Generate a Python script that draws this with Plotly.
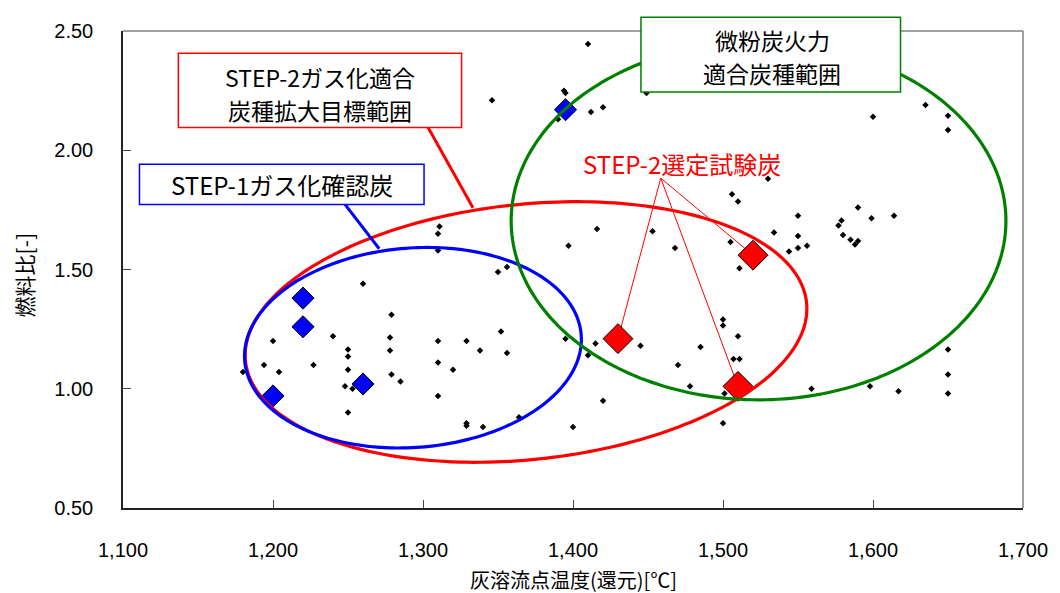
import numpy as np
import plotly.graph_objects as go

# ---------------- data ----------------
coal_x = [1311, 1310, 1310, 1260, 1279, 1240, 1278, 1310, 1200, 1250, 1250, 1278, 1310, 1194,
          1204, 1227, 1250, 1279, 1285, 1180, 1248, 1253, 1310, 1250,
          1350, 1356, 1329, 1352, 1338, 1356, 1320, 1329, 1329, 1340, 1364, 1395, 1415, 1410,
          1445, 1485, 1470, 1478, 1420, 1400, 1500, 1500, 1510, 1507, 1511, 1501, 1500, 1511,
          1559, 1598, 1617, 1650, 1650, 1650,
          1635, 1650, 1650, 1600, 1530, 1506, 1510, 1550, 1590, 1599, 1614, 1579, 1577, 1580,
          1585, 1588, 1590, 1534, 1550, 1544, 1550, 1556, 1505,
          1410, 1346, 1394, 1395, 1390, 1412, 1420, 1449, 1416, 1397, 1453, 1468]
coal_y = [1.68, 1.65, 1.58, 1.44, 1.31, 1.22, 1.215, 1.20, 1.20, 1.165, 1.135, 1.16, 1.11, 1.10,
          1.07, 1.10, 1.08, 1.06, 1.03, 1.07, 1.01, 1.00, 0.97, 0.90,
          1.49, 1.51, 1.20, 1.24, 1.16, 1.15, 1.08, 0.855, 0.845, 0.84, 0.88, 1.21, 1.19, 1.14,
          1.18, 1.175, 1.10, 1.01, 0.95, 0.84, 1.29, 1.265, 1.22, 1.125, 1.125, 0.98, 0.855, 1.505,
          1.00, 1.01, 0.99, 1.165, 1.06, 0.98,
          2.19, 2.145, 2.085, 2.14, 1.88, 1.815, 1.785, 1.725, 1.76, 1.715, 1.725, 1.705, 1.685, 1.645,
          1.625, 1.605, 1.62, 1.655, 1.64, 1.575, 1.59, 1.60, 1.615,
          2.445, 2.21, 2.25, 2.24, 2.13, 2.16, 2.18, 2.24, 1.67, 1.60, 1.66, 1.59]

step1_x = [1220, 1220, 1260, 1200, 1395]
step1_y = [1.38, 1.26, 1.02, 0.97, 2.17]

step2_x = [1430, 1510, 1520]
step2_y = [1.21, 1.01, 1.56]

x_ticks = [1100, 1200, 1300, 1400, 1500, 1600, 1700]
y_ticks = [0.5, 1.0, 1.5, 2.0, 2.5]

# ---------------- layout constants ----------------
# the page body has an 8px margin, so the figure is made 8px smaller
W, H = 1052, 585
ML, MR, MT, MB = 115, 26, 16, 85
PW, PH = W - ML - MR, H - MT - MB
XR = [1100, 1700]
YR = [0.5, 2.5]
SX = (XR[1] - XR[0]) / PW   # data per px
SY = (YR[1] - YR[0]) / PH

FONT = "Noto Sans CJK JP"


def ellipse_path(cx, cy, a_px, b_px, deg, n=240):
    th = np.deg2rad(deg)
    t = np.linspace(0, 2 * np.pi, n, endpoint=False)
    u = a_px * np.cos(t)
    v = b_px * np.sin(t)
    dx = u * np.cos(th) - v * np.sin(th)
    dy = u * np.sin(th) + v * np.cos(th)
    xs = cx + dx * SX
    ys = cy + dy * SY
    pts = [f"{x:.3f},{y:.4f}" for x, y in zip(xs, ys)]
    return "M" + " L".join(pts) + " Z"


fig = go.Figure()

fig.add_trace(go.Scatter(x=coal_x, y=coal_y, mode="markers",
                         marker=dict(symbol="diamond", size=5, color="black",
                                     line=dict(width=0)),
                         showlegend=False, hoverinfo="skip"))
fig.add_trace(go.Scatter(x=step1_x, y=step1_y, mode="markers",
                         marker=dict(symbol="diamond", size=17, color="#0000ff",
                                     line=dict(width=1, color="black")),
                         showlegend=False))
fig.add_trace(go.Scatter(x=step2_x, y=step2_y, mode="markers",
                         marker=dict(symbol="diamond", size=23, color="#ff0000",
                                     line=dict(width=1, color="black")),
                         showlegend=False))

shapes = []
# thin leaders to selected coals (below markers)
for sx_, sy_ in zip(step2_x, step2_y):
    shapes.append(dict(type="line", xref="x", yref="y", x0=1458.5, y0=1.883, x1=sx_, y1=sy_,
                       line=dict(color="#ff0000", width=1), layer="below"))
# ellipses
shapes.append(dict(type="path", xref="x", yref="y",
                   path=ellipse_path(1368.7, 1.238, 285.5, 129.5, 6.0),
                   line=dict(color="#ff0000", width=3.2), layer="above"))
shapes.append(dict(type="path", xref="x", yref="y",
                   path=ellipse_path(1293.3, 1.172, 170.8, 101.2, 4.4),
                   line=dict(color="#0000ff", width=3.2), layer="above"))
shapes.append(dict(type="path", xref="x", yref="y",
                   path=ellipse_path(1523.7, 1.704, 250.4, 181.6, 0.0),
                   line=dict(color="#008000", width=3.2), layer="above"))
# leader lines from boxes
shapes.append(dict(type="line", xref="x", yref="y", x0=1303.3, y0=2.096, x1=1333.3, y1=1.759,
                   line=dict(color="#ff0000", width=3), layer="above"))
shapes.append(dict(type="line", xref="x", yref="y", x0=1248.0, y0=1.773, x1=1270.8, y1=1.587,
                   line=dict(color="#0000ff", width=3), layer="above"))
# top and right frame (gray)
shapes.append(dict(type="line", xref="paper", yref="paper", x0=0, y0=1, x1=1, y1=1,
                   line=dict(color="#808080", width=1.5), layer="above"))
shapes.append(dict(type="line", xref="paper", yref="paper", x0=1, y0=0, x1=1, y1=1,
                   line=dict(color="#808080", width=1.5), layer="above"))
# label boxes (white fill, coloured border)
shapes.append(dict(type="rect", xref="paper", yref="paper", x0=0.0615, x1=0.3762, y0=0.7975, y1=0.9531,
                   line=dict(color="#ff0000", width=1.5), fillcolor="white", layer="above"))
shapes.append(dict(type="rect", xref="paper", yref="paper", x0=0.0183, x1=0.3345, y0=0.6364, y1=0.7205,
                   line=dict(color="#0000ff", width=1.5), fillcolor="white", layer="above"))
shapes.append(dict(type="rect", xref="paper", yref="paper", x0=0.5755, x1=0.8639, y0=0.8719, y1=1.0289,
                   line=dict(color="#008000", width=1.5), fillcolor="white", layer="above"))


def label(x, y, text, size=23, color="black"):
    return dict(x=x, y=y, xref="paper", yref="paper", showarrow=False, text=text,
                xanchor="center", yanchor="middle", borderpad=0,
                font=dict(family=FONT, size=size, color=color))


annotations = [
    label(0.2188, 0.9039, "STEP-2ガス化適合"),
    label(0.2188, 0.8337, "炭種拡大目標範囲"),
    label(0.1765, 0.6783, "STEP-1ガス化確認炭", size=24),
    label(0.7212, 0.9814, "微粉炭火力"),
    label(0.7212, 0.9112, "適合炭種範囲"),
    label(0.6213, 0.7231, "STEP-2選定試験炭", size=24, color="#ff0000"),
    dict(x=0.5, y=0, xref="paper", yref="paper", showarrow=False, borderpad=0,
         text="灰溶流点温度(還元)[℃]", yshift=-71, yanchor="middle",
         font=dict(family=FONT, size=20, color="black")),
    dict(x=0, y=0.4876, xref="paper", yref="paper", showarrow=False, borderpad=0,
         text="燃料比[-]", textangle=-90, xshift=-99, xanchor="center", yanchor="middle",
         font=dict(family=FONT, size=21, color="black")),
]

fig.update_layout(
    width=W, height=H, autosize=False,
    margin=dict(l=ML, r=MR, t=MT, b=MB),
    paper_bgcolor="white", plot_bgcolor="white",
    shapes=shapes, annotations=annotations,
    font=dict(family="Liberation Sans", size=20, color="black"),
    xaxis=dict(range=XR, tickvals=x_ticks, tickformat=",d", showgrid=False, zeroline=False,
               showline=True, linecolor="#222", linewidth=1.5,
               ticks="inside", ticklen=8, tickcolor="#444", tickwidth=1,
               ticklabelstandoff=23, tickfont=dict(family="Liberation Sans", size=20)),
    yaxis=dict(range=YR, tickvals=y_ticks, tickformat=".2f", showgrid=False, zeroline=False,
               showline=True, linecolor="#222", linewidth=1.5,
               ticks="inside", ticklen=8, tickcolor="#444", tickwidth=1,
               ticklabelstandoff=24, tickfont=dict(family="Liberation Sans", size=20)),
)

fig.write_html("out.html")
